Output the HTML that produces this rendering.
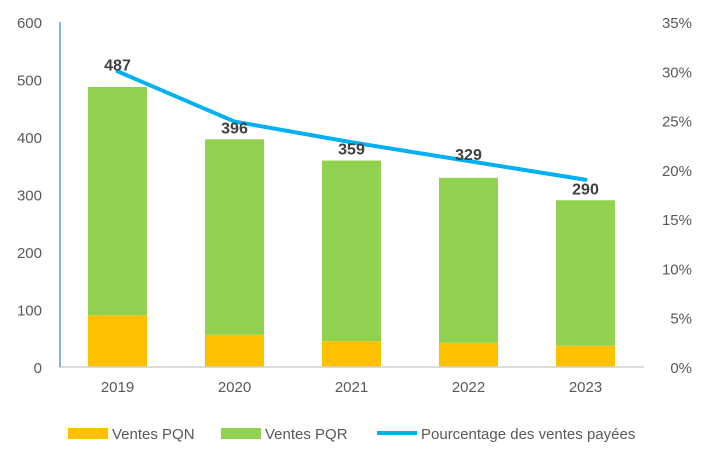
<!DOCTYPE html>
<html><head><meta charset="utf-8"><style>
html,body{margin:0;padding:0;background:#fff;}
svg text{font-family:"Liberation Sans",sans-serif;}
</style></head><body>
<svg id="chart" width="706" height="463" xmlns="http://www.w3.org/2000/svg"></svg>
<script>
const categories=["2019","2020","2021","2022","2023"];
const pqn=[90,56,45,42,37];
const pqr=[397,340,314,287,253];
const totals=[487,396,359,329,290];
const pct=[30,24.9,22.8,20.9,19];
const leftTicks=[0,100,200,300,400,500,600];
const rightTicks=[0,5,10,15,20,25,30,35];

const svg=document.getElementById('chart');
const NS="http://www.w3.org/2000/svg";
const x0=59,x1=644,yBase=367,yTop=22;
const yL=v=>yBase-(v/600)*(yBase-yTop);
const yR=v=>yBase-(v/35)*(yBase-yTop);
const bw=(x1-x0)/categories.length;
const xc=i=>x0+bw*(i+0.5);
function el(tag,attrs,txt){const e=document.createElementNS(NS,tag);for(const k in attrs)e.setAttribute(k,attrs[k]);if(txt!==undefined)e.textContent=txt;svg.appendChild(e);return e;}

leftTicks.forEach(t=>{const e=el('text',{x:42,y:yL(t)+6,'text-anchor':'end','font-size':15,fill:'#595959'},t);

});
rightTicks.forEach(t=>{const e=el('text',{x:692,y:yR(t)+6,'text-anchor':'end','font-size':15,fill:'#595959'},t+'%');

});

categories.forEach((c,i)=>{
 const w=59,x=xc(i)-w/2;
 const r1=el('rect',{x:x,y:yL(pqn[i]),width:w,height:yBase-yL(pqn[i]),fill:'#FFC000'});
 
 
 const r2=el('rect',{x:x,y:yL(pqn[i]+pqr[i]),width:w,height:yL(pqn[i])-yL(pqn[i]+pqr[i]),fill:'#92D050'});
 
 
 const t=el('text',{x:xc(i),y:yBase+25,'text-anchor':'middle','font-size':15,fill:'#595959'},c);
 
 
});
const ax=el('line',{x1:x0,y1:yBase,x2:x1,y2:yBase,stroke:'#d0d0d0','stroke-width':1.5});


const ay=el('line',{x1:60,y1:yTop,x2:60,y2:yBase,stroke:'#5B9BD5','stroke-width':1.5});



const line=el('polyline',{points:pct.map((p,i)=>xc(i)+','+yR(p)).join(' '),fill:'none',stroke:'#00B0F0','stroke-width':4,'stroke-linejoin':'round','stroke-linecap':'round'});


totals.forEach((v,i)=>{
 let cy=yL(v)-12;
 const ly=yR(pct[i]);
 if(Math.abs(cy-ly)<5)cy=ly-7;
 const t=el('text',{x:xc(i),y:cy+6,'text-anchor':'middle','font-size':16,'font-weight':'bold',fill:'#404040'},v);
 
 });

const leg=[['rect','#FFC000','Ventes PQN',68],['rect','#92D050','Ventes PQR',221],['line','#00B0F0','Pourcentage des ventes payées',377]];
leg.forEach(l=>{
 let m;
 if(l[0]==='rect')m=el('rect',{x:l[3],y:428,width:40,height:11,fill:l[1]});
 else m=el('line',{x1:l[3],y1:433,x2:l[3]+40,y2:433,stroke:l[1],'stroke-width':4});
 
 
 const t=el('text',{x:l[3]+44,y:439,'font-size':15,fill:'#595959'},l[2]);
 
 
});
</script>
</body></html>
